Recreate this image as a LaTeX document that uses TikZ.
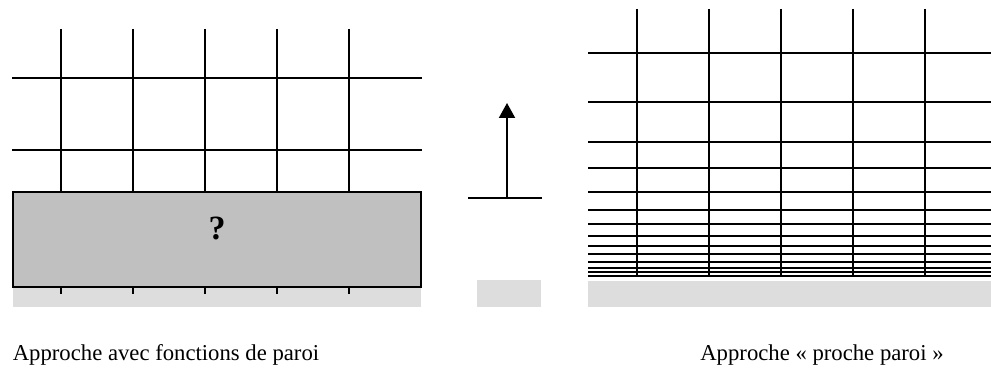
\documentclass[tikz,border=0pt]{standalone}
\usepackage{fontspec}
\setmainfont{Liberation Serif}
\usetikzlibrary{arrows.meta}
\begin{document}
\begin{tikzpicture}[x=1pt,y=-1pt,
  gridline/.style={line width=2pt,black},
  wallbox/.style={draw=black,line width=2pt,fill=boxgray},
  wallstrip/.style={fill=stripgray,draw=none},
  caption/.style={font=\fontsize{22.7}{27}\selectfont,inner sep=0pt,anchor=base},
  upar/.style={line width=2pt,-{Triangle[length=15pt,width=16pt]}}]
\definecolor{boxgray}{HTML}{C0C0C0}
\definecolor{stripgray}{HTML}{DDDDDD}
\useasboundingbox (0,0) rectangle (991,390);
% ---------- left panel ----------
\fill[stripgray] (13,287) rectangle (421,307);
\foreach \x in {61,133,205,277,349}{
  \draw[gridline] (\x,29) -- (\x,192);
  \draw[gridline] (\x,287) -- (\x,294);
}
\foreach \y in {78,150}{
  \draw[gridline] (12,\y) -- (422,\y);
}
\node[wallbox,minimum width=408pt,minimum height=95pt,inner sep=0pt] (box) at (217,239.5) {};
\node[font=\fontsize{34}{38}\selectfont\bfseries,inner sep=0pt] (q) at (217,228) {?};
% ---------- middle ----------
\coordinate (mL) at (468,198);
\coordinate (mR) at (542,198);
\coordinate (aB) at (507,198);
\coordinate (aT) at (507,103);
\draw[gridline] (mL) -- (mR);
\draw[upar] (aB) -- (aT);
\fill[stripgray] (477,280) rectangle (541,307);
% ---------- right panel ----------
\fill[stripgray] (588,281) rectangle (991,307);
\foreach \x in {637,709,781,853,925}{
  \draw[gridline] (\x,9) -- (\x,276);
}
\foreach \y in {53,102,142,168,192,210,224,236,246,254,262,268,272,276}{
  \draw[gridline] (588,\y) -- (991,\y);
}
% ---------- captions ----------
\node[caption] (capL) at (166,360) {Approche avec fonctions de paroi};
\node[caption] (capR) at (822,360) {Approche « proche paroi »};
\end{tikzpicture}
\end{document}
